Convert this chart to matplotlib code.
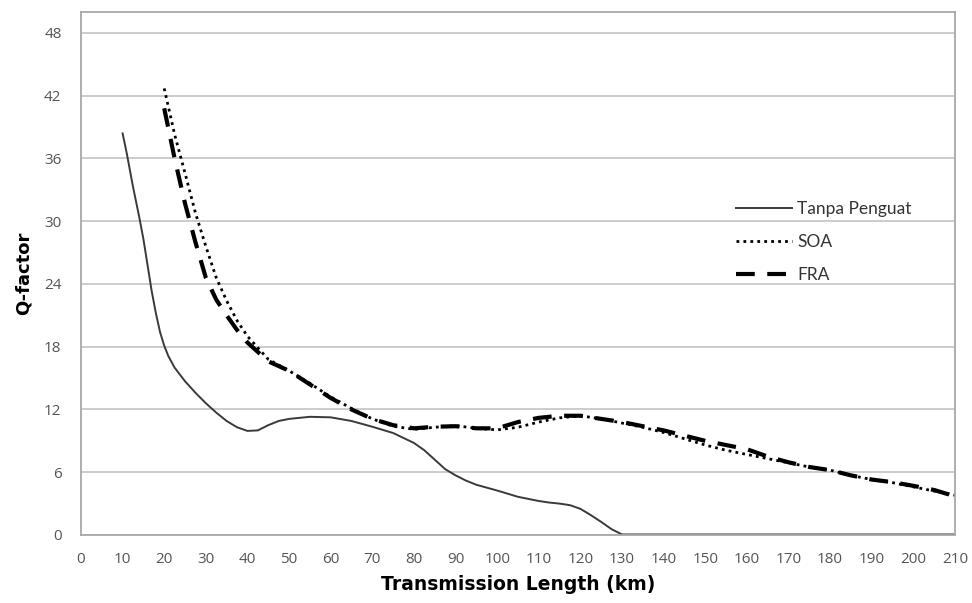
import matplotlib
matplotlib.use("Agg")
import matplotlib.pyplot as plt

# transmission length (km) and Q-factor
x_tanpa = [10, 11, 12.5, 14, 15, 16, 17, 18, 19, 20, 21, 22.5, 25, 27.5, 30, 32.5, 35, 37.5, 40,
           42.5, 45, 47.5, 50, 55, 60, 65, 70, 75, 80, 82.5, 85, 87.5, 90, 92.5, 95, 100, 105,
           110, 112.5, 115, 117.5, 120, 122.5, 125, 127.5, 130, 140, 150, 160, 170, 180, 190,
           200, 210]
q_tanpa = [38.4, 36.5, 33.3, 30.4, 28.3, 25.8, 23.3, 21.2, 19.4, 18.1, 17.1, 16.0, 14.7, 13.6,
           12.6, 11.7, 10.9, 10.3, 9.95, 10.0, 10.5, 10.9, 11.1, 11.3, 11.25, 10.9, 10.35, 9.75,
           8.8, 8.1, 7.2, 6.3, 5.7, 5.2, 4.8, 4.25, 3.65, 3.25, 3.1, 3.0, 2.85, 2.5, 1.9, 1.25,
           0.55, 0.05, 0.05, 0.05, 0.05, 0.05, 0.05, 0.05, 0.05, 0.05]

x_amp = [20, 22.5, 25, 27.5, 30, 32.5, 35, 37.5, 40, 45, 50, 55, 60, 65, 70, 75, 80, 85, 90, 95,
         100, 105, 110, 115, 120, 125, 130, 135, 140, 145, 150, 155, 160, 165, 170, 175, 180,
         185, 190, 195, 200, 205, 210]
q_soa = [42.7, 38.3, 34.6, 30.8, 27.6, 24.6, 22.4, 20.5, 19.0, 16.8, 15.7, 14.5, 13.2, 12.1, 11.1,
         10.4, 10.1, 10.3, 10.45, 10.2, 10.05, 10.3, 10.8, 11.2, 11.4, 11.1, 10.7, 10.3, 9.8,
         9.2, 8.6, 8.1, 7.7, 7.3, 6.9, 6.5, 6.2, 5.7, 5.3, 5.0, 4.6, 4.2, 3.8]
q_fra = [40.8, 36.0, 31.7, 28.0, 24.6, 22.5, 21.0, 19.6, 18.4, 16.6, 15.7, 14.4, 13.1, 12.0, 11.1,
         10.5, 10.2, 10.35, 10.4, 10.2, 10.2, 10.8, 11.2, 11.4, 11.4, 11.1, 10.8, 10.4, 10.0,
         9.5, 9.0, 8.6, 8.2, 7.5, 6.95, 6.5, 6.2, 5.7, 5.3, 5.05, 4.7, 4.3, 3.7]

xticks = list(range(0, 211, 10))
yticks = list(range(0, 49, 6))

fig = plt.figure(figsize=(9.72, 6.03), dpi=100)
ax = fig.add_axes([0.0833, 0.1128, 0.8992, 0.8672])

ax.plot(x_tanpa, q_tanpa, color="#3a3a3a", lw=1.4, ls="-", label="Tanpa Penguat")
ax.plot(x_amp, q_soa, color="black", lw=2.0, ls=(0, (1, 1.5)), label="SOA")
ax.plot(x_amp, q_fra, color="black", lw=3.0, ls=(0, (4.5, 3)), label="FRA")

ax.set_xlim(0, 210)
ax.set_ylim(0, 50)
ax.set_xticks(xticks)
ax.set_yticks(yticks)
ax.tick_params(length=0, labelsize=11, colors="#555555")
ax.tick_params(axis="y", pad=14)
ax.tick_params(axis="x", pad=12)
for lab in ax.get_xticklabels() + ax.get_yticklabels():
    lab.set_family("Open Sans")

ax.grid(axis="y", color="#c8c8c8", lw=1.3)
ax.set_axisbelow(True)
for s in ax.spines.values():
    s.set_color("#a8a8a8")
    s.set_linewidth(1.3)

ax.set_xlabel("Transmission Length (km)", fontsize=13.5, fontweight="bold",
              family="DejaVu Sans", labelpad=6)
ax.set_ylabel("Q-factor", fontsize=13, fontweight="bold", family="DejaVu Sans",
              labelpad=8)

leg = ax.legend(loc="upper left", bbox_to_anchor=(0.732, 0.668), frameon=False,
                handlelength=3.2, handletextpad=0.3, labelspacing=0.98,
                prop={"family": "Lato", "size": 12.5})
for t in leg.get_texts():
    t.set_color("#333333")

fig.savefig("out.png", dpi=100)
